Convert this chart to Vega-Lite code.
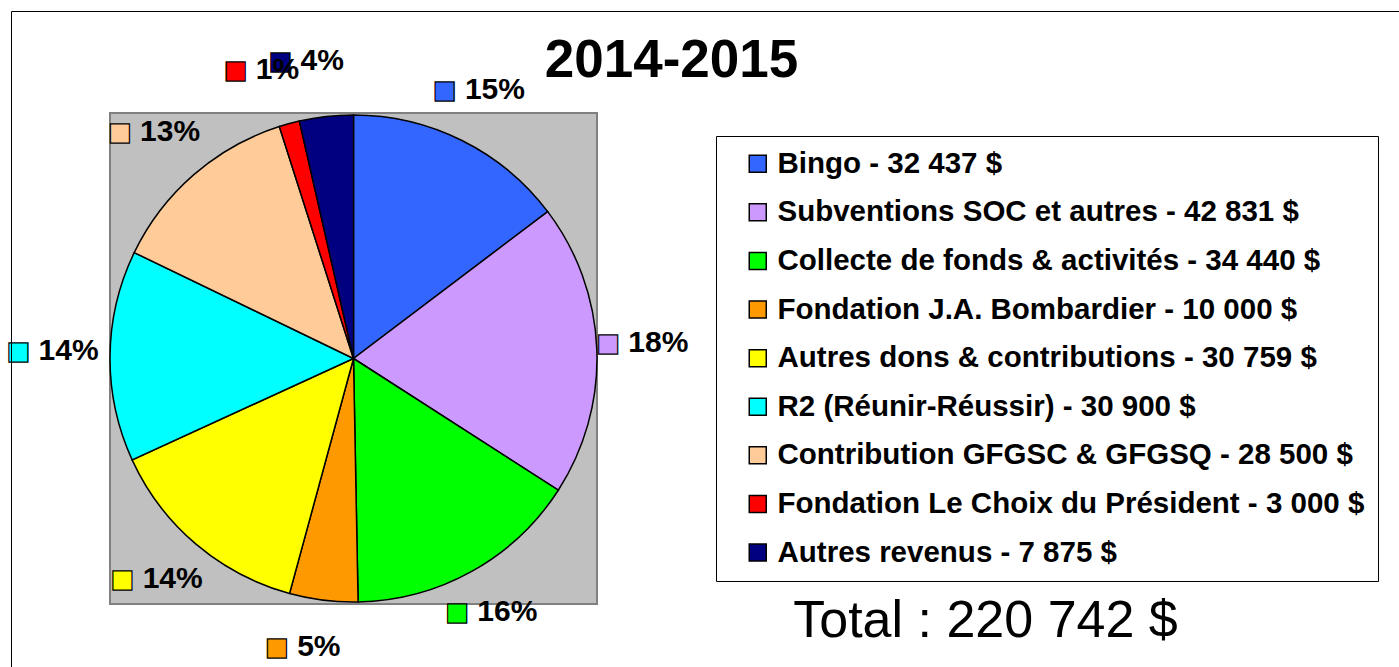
{
  "$schema": "https://vega.github.io/schema/vega-lite/v6.json",
  "width": 487,
  "height": 491,
  "autosize": {"type": "none"},
  "padding": {"left": 110, "top": 113, "right": 802, "bottom": 63},
  "background": "white",
  "title": {"text": "2014-2015", "font": "Liberation Sans", "fontSize": 53, "fontWeight": "bold", "color": "black", "anchor": "middle", "dx": 318, "offset": 30, "dy": 107},
  "data": {"values": [
    {"ordre": 1, "legende": "Bingo - 32 437 $", "montant": 32437, "pct": "15%"},
    {"ordre": 2, "legende": "Subventions SOC et autres - 42 831 $", "montant": 42831, "pct": "18%"},
    {"ordre": 3, "legende": "Collecte de fonds & activités - 34 440 $", "montant": 34440, "pct": "16%"},
    {"ordre": 4, "legende": "Fondation J.A. Bombardier - 10 000 $", "montant": 10000, "pct": "5%"},
    {"ordre": 5, "legende": "Autres dons & contributions - 30 759 $", "montant": 30759, "pct": "14%"},
    {"ordre": 6, "legende": "R2 (Réunir-Réussir) - 30 900 $", "montant": 30900, "pct": "14%"},
    {"ordre": 7, "legende": "Contribution GFGSC & GFGSQ - 28 500 $", "montant": 28500, "pct": "13%"},
    {"ordre": 8, "legende": "Fondation Le Choix du Président - 3 000 $", "montant": 3000, "pct": "1%"},
    {"ordre": 9, "legende": "Autres revenus - 7 875 $", "montant": 7875, "pct": "4%"}
  ]},
  "config": {"view": {"fill": "#C0C0C0", "stroke": "#808080", "strokeWidth": 2}},
  "layer": [
    {
      "data": {"values": [{"fond": 1}]},
      "mark": {"type": "rect", "fill": "#C0C0C0", "stroke": "#808080", "strokeWidth": 2},
      "encoding": {}
    },
    {
      "mark": {"type": "arc", "stroke": "black", "strokeWidth": 1.5},
      "encoding": {
        "theta": {"field": "montant", "type": "quantitative", "stack": true},
        "order": {"field": "ordre", "type": "quantitative"},
        "color": {
          "field": "legende", "type": "nominal",
          "scale": {
            "domain": ["Bingo - 32 437 $", "Subventions SOC et autres - 42 831 $", "Collecte de fonds & activités - 34 440 $", "Fondation J.A. Bombardier - 10 000 $", "Autres dons & contributions - 30 759 $", "R2 (Réunir-Réussir) - 30 900 $", "Contribution GFGSC & GFGSQ - 28 500 $", "Fondation Le Choix du Président - 3 000 $", "Autres revenus - 7 875 $"],
            "range": ["#3366FF", "#CC99FF", "#00FF00", "#FF9900", "#FFFF00", "#00FFFF", "#FFCC99", "#FF0000", "#000080"]
          },
          "legend": {
            "orient": "none", "legendX": 606, "legendY": 23, "title": null,
            "symbolType": "square", "symbolSize": 289, "symbolStrokeColor": "black", "symbolStrokeWidth": 1.5, "symbolOpacity": 1,
            "labelFont": "Liberation Sans", "labelFontSize": 29.5, "labelFontWeight": "bold", "labelColor": "black", "labelLimit": 1000,
            "labelOffset": 5, "rowPadding": 17.6, "padding": 13, "symbolOffset": 14,
            "strokeColor": "black", "fillColor": "white"
          }
        }
      }
    },
    {
      "mark": {"type": "text", "radius": 295, "text": "■", "font": "DejaVu Sans", "fontSize": 25, "dx": -40, "dy": -4, "align": "center", "baseline": "middle", "stroke": "black", "strokeWidth": 1.2},
      "encoding": {
        "theta": {"field": "montant", "type": "quantitative", "stack": true},
        "order": {"field": "ordre", "type": "quantitative"},
        "color": {"field": "legende", "type": "nominal"}
      }
    },
    {
      "mark": {"type": "text", "radius": 295, "font": "Liberation Sans", "fontSize": 30, "fontWeight": "bold", "color": "black", "dx": -20, "dy": -4, "align": "left", "baseline": "middle"},
      "encoding": {
        "theta": {"field": "montant", "type": "quantitative", "stack": true},
        "order": {"field": "ordre", "type": "quantitative"},
        "text": {"field": "pct", "type": "nominal"}
      }
    },
    {
      "data": {"values": [{"t": "Total : 220 742 $"}]},
      "mark": {"type": "text", "font": "Liberation Sans", "fontSize": 52, "color": "black", "dx": 632, "dy": 262, "align": "center", "baseline": "middle"},
      "encoding": {
        "text": {"field": "t", "type": "nominal"},
        "opacity": {
          "field": "t", "type": "ordinal", "scale": {"range": [1, 1]},
          "legend": {"orient": "none", "legendX": -99, "legendY": -102, "title": null, "padding": 1000, "symbolSize": 0, "symbolOpacity": 0, "labelFontSize": 1, "labelOpacity": 0, "labelExpr": "''", "strokeColor": "black", "fillColor": "transparent"}
        }
      }
    }
  ]
}
